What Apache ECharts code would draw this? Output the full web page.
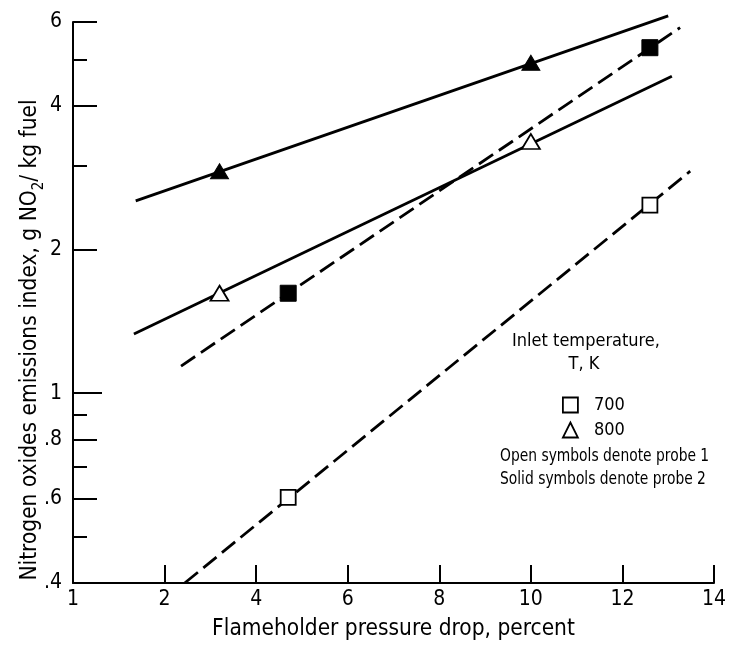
<!DOCTYPE html>
<html>
<head>
<meta charset="utf-8">
<script src="https://cdn.jsdelivr.net/npm/echarts@6/dist/echarts.min.js"></script>
<style>
  html, body { margin: 0; padding: 0; background: #fff; }
  #chart { width: 738px; height: 646px; }
</style>
</head>
<body>
<div id="chart"></div>
<script>
// Flameholder pressure drop (percent) at which each probe was sampled
const pressureDrop700 = [4.7, 12.6];
const pressureDrop800 = [3.2, 10.0];

// NOx emissions index, g NO2 / kg fuel
const open700 = [0.605, 2.48];   // 700 K, probe 1
const solid700 = [1.62, 5.30];   // 700 K, probe 2
const open800 = [1.62, 3.37];    // 800 K, probe 1
const solid800 = [2.92, 4.93];   // 800 K, probe 2

// Faired lines through each data set: [pressure drop, emissions index] end points
const fitOpen700 = [[2.44, 0.40], [13.48, 2.92]];
const fitSolid700 = [[2.36, 1.14], [13.26, 5.84]];
const fitOpen800 = [[1.33, 1.33], [13.08, 4.62]];
const fitSolid800 = [[1.37, 2.53], [13.00, 6.18]];

// Axis ticks
const xTickValues = [0, 2, 4, 6, 8, 10, 12, 14];
const xTickLabels = ['1', '2', '4', '6', '8', '10', '12', '14'];
const yLabelValues = [0.4, 0.6, 0.8, 1, 2, 4, 6];
const yLabelTexts = ['.4', '.6', '.8', '1', '2', '4', '6'];
const yMajorTicks = [0.6, 0.8, 2, 4, 6];
const yUnitTick = [1];
const yMinorTicks = [0.5, 0.7, 0.9, 3, 5];

const FONT = "'Liberation Sans Narrow', 'DejaVu Sans Condensed', 'Roboto Condensed', 'Liberation Sans', sans-serif";
const INK = '#000';

const pair = (xs, ys) => xs.map((x, i) => [x, ys[i]]);

function yAxisBase(extra) {
  return Object.assign({
    type: 'log',
    logBase: 10,
    min: 0.4,
    max: 6,
    position: 'left',
    splitLine: { show: false },
    axisLine: { show: false },
    axisLabel: { show: false },
    axisTick: { show: false }
  }, extra);
}

const chart = echarts.init(document.getElementById('chart'), null, { renderer: 'canvas' });

const fitLine = (name, data, dashed) => ({
  name: name,
  type: 'line',
  data: data,
  symbol: 'none',
  clip: false,
  silent: true,
  z: 2,
  lineStyle: { color: INK, width: 2.8, type: dashed ? [17, 7] : 'solid', cap: 'butt' }
});

const points = (name, data, symbol, filled, size) => ({
  name: name,
  type: 'scatter',
  data: data,
  symbol: symbol,
  symbolSize: size,
  clip: false,
  z: 5,
  itemStyle: filled
    ? { color: INK, borderColor: INK, borderWidth: 1, opacity: 1 }
    : { color: '#fff', borderColor: INK, borderWidth: 1.8, opacity: 1 }
});

// Key text, drawn slightly condensed
const keyText = (text, x, y, size, align, squeeze) => ({
  type: 'text',
  x: x,
  y: y,
  scaleX: squeeze,
  style: { text: text, font: size + 'px ' + FONT, fill: INK, align: align, verticalAlign: 'middle' }
});

chart.setOption({
  animation: false,
  backgroundColor: '#fff',
  textStyle: { fontFamily: FONT, color: INK },
  grid: { left: 73, top: 22, width: 641, height: 567, containLabel: false },
  xAxis: {
    type: 'value',
    min: 0,
    max: 14,
    interval: 2,
    name: 'Flameholder pressure drop, percent',
    nameLocation: 'middle',
    nameGap: 35,
    nameTextStyle: { fontFamily: FONT, fontSize: 22.5, color: INK },
    splitLine: { show: false },
    axisLine: { lineStyle: { color: INK, width: 2 } },
    axisTick: {
      inside: true,
      length: 18,
      customValues: xTickValues.slice(1),
      lineStyle: { color: INK, width: 2 }
    },
    axisLabel: {
      customValues: xTickValues,
      margin: 6,
      fontFamily: FONT,
      fontSize: 21,
      color: INK,
      formatter: (v) => xTickLabels[xTickValues.indexOf(v)]
    }
  },
  yAxis: [
    yAxisBase({
      axisLine: { show: true, lineStyle: { color: INK, width: 2 } },
      axisTick: {
        show: true,
        inside: true,
        length: 24,
        customValues: yMajorTicks,
        lineStyle: { color: INK, width: 2 }
      },
      axisLabel: {
        show: true,
        customValues: yLabelValues,
        margin: 11,
        fontFamily: FONT,
        fontSize: 21,
        color: INK,
        formatter: (v) => {
          const i = yLabelValues.findIndex((t) => Math.abs(t - v) < 1e-9);
          return i >= 0 ? yLabelTexts[i] : '';
        }
      }
    }),
    yAxisBase({
      axisTick: {
        show: true,
        inside: true,
        length: 29,
        customValues: yUnitTick,
        lineStyle: { color: INK, width: 2 }
      }
    }),
    yAxisBase({
      axisTick: {
        show: true,
        inside: true,
        length: 14,
        customValues: yMinorTicks,
        lineStyle: { color: INK, width: 2 }
      }
    })
  ],
  legend: {
    left: 557,
    top: 391,
    orient: 'vertical',
    itemWidth: 15,
    itemHeight: 15,
    itemGap: 7,
    selectedMode: false,
    textStyle: { fontFamily: FONT, fontSize: 18, color: INK, padding: [0, 0, 0, 11] },
    data: [
      { name: '700', icon: 'rect', itemStyle: { color: '#fff', borderColor: INK, borderWidth: 1.8 } },
      { name: '800', icon: 'triangle', itemStyle: { color: '#fff', borderColor: INK, borderWidth: 1.8 } }
    ]
  },
  graphic: [
    {
      type: 'text',
      x: 30,
      y: 340,
      rotation: Math.PI / 2,
      style: {
        text: 'Nitrogen oxides emissions index, g NO{sub|2}/ kg fuel',
        font: '22.5px ' + FONT,
        fill: INK,
        align: 'center',
        verticalAlign: 'middle',
        rich: {
          sub: { fontSize: 15, fontFamily: FONT, fill: INK, verticalAlign: 'bottom', lineHeight: 34 }
        }
      }
    },
    keyText('Inlet temperature,', 586, 341, 18, 'center', 1),
    keyText('T, K', 584, 364, 18, 'center', 1),
    keyText('Open symbols denote probe 1', 500, 456, 17.5, 'left', 0.88),
    keyText('Solid symbols denote probe 2', 500, 479, 17.5, 'left', 0.88)
  ],
  series: [
    fitLine('fit 800 solid', fitSolid800, false),
    fitLine('fit 800 open', fitOpen800, false),
    fitLine('fit 700 solid', fitSolid700, true),
    fitLine('fit 700 open', fitOpen700, true),
    points('800', pair(pressureDrop800, open800), 'triangle', false, [18, 15]),
    points('800 probe 2', pair(pressureDrop800, solid800), 'triangle', true, [18, 15]),
    points('700', pair(pressureDrop700, open700), 'rect', false, 15),
    points('700 probe 2', pair(pressureDrop700, solid700), 'rect', true, 16)
  ]
});
</script>
</body>
</html>
